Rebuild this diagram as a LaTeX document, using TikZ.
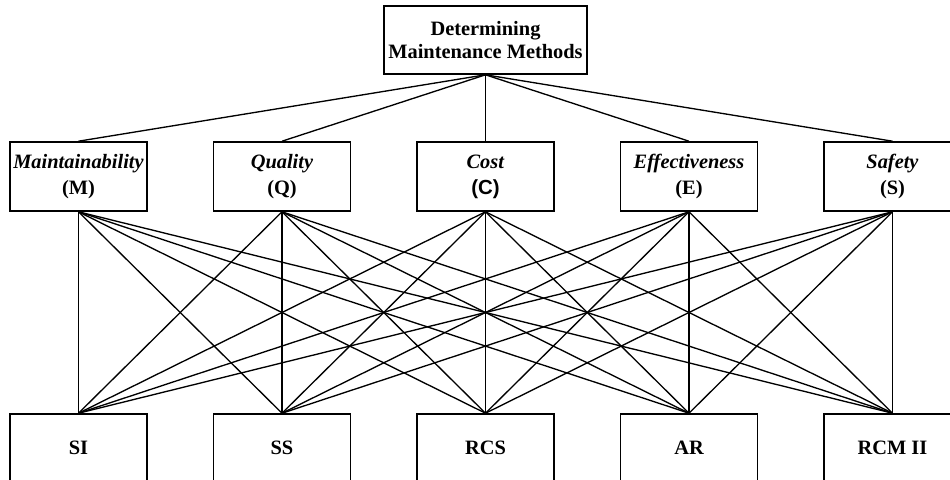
\documentclass[tikz,border=0pt]{standalone}
\usepackage{fontspec}
\setmainfont{Liberation Serif}
\newfontfamily\sansf{Liberation Sans}
\begin{document}
\begin{tikzpicture}[x=0.75pt,y=-0.75pt,
  box/.style={draw,line width=1.2pt,minimum width=102.75pt,minimum height=51.75pt,inner sep=0pt,align=center,font=\fontsize{15.3}{19.5}\selectfont\bfseries},
  goalbox/.style={box,minimum width=152.25pt,minimum height=51pt,font=\fontsize{15.3}{17.5}\selectfont\bfseries},
  altbox/.style={box,minimum height=51pt},
  link/.style={line width=1pt}]
\useasboundingbox (0,0) rectangle (950,479);
\clip (0,0) rectangle (950,479);
\node[goalbox] (goal) at (485.5,40) {Determining\\Maintenance Methods};
\node[box] (M) at (78.5,176.5) {\textit{Maintainability}\\(M)};
\node[box] (Q) at (282,176.5) {\textit{Quality}\\(Q)};
\node[box] (C) at (485.5,176.5) {\textit{Cost}\\{\sansf\bfseries (C)}};
\node[box] (E) at (689,176.5) {\textit{Effectiveness}\\(E)};
\node[box] (S) at (892.5,176.5) {\textit{Safety}\\(S)};
\node[altbox] (SI) at (78.5,448) {SI};
\node[altbox] (SS) at (282,448) {SS};
\node[altbox] (RCS) at (485.5,448) {RCS};
\node[altbox] (AR) at (689,448) {AR};
\node[altbox] (RCM) at (892.5,448) {RCM II};
\foreach \c in {M,Q,C,E,S} \draw[link] (goal.south) -- (\c.north);
\foreach \c in {M,Q,C,E,S} {
  \foreach \a in {SI,SS,RCS,AR,RCM} \draw[link] (\c.south) -- (\a.north);
}
\end{tikzpicture}
\end{document}
